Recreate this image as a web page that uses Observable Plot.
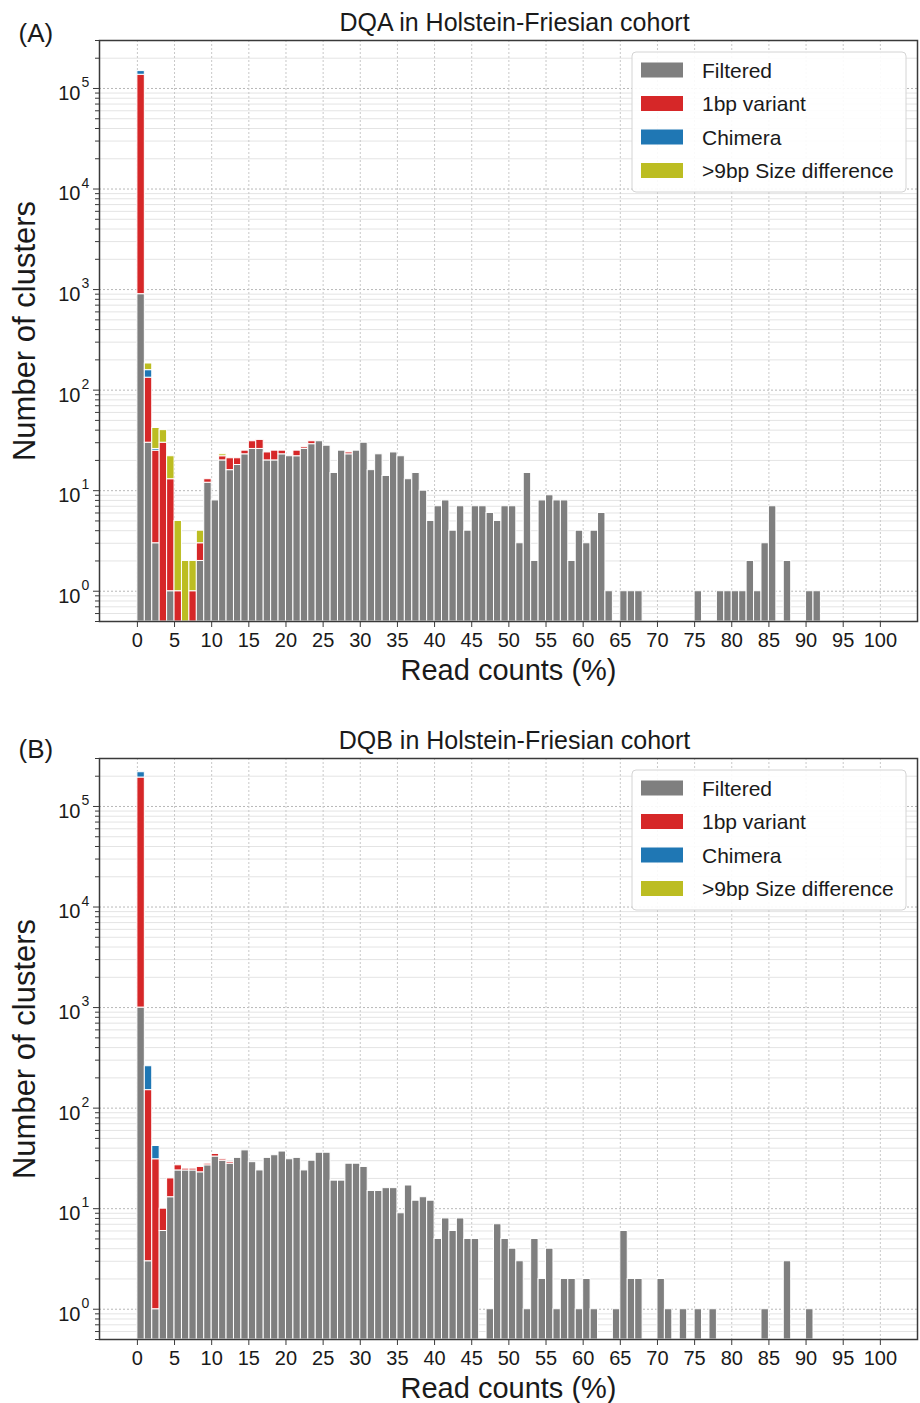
<!DOCTYPE html>
<html><head><meta charset="utf-8">
<script src="https://cdn.jsdelivr.net/npm/d3@7"></script>
<script src="https://cdn.jsdelivr.net/npm/@observablehq/plot@0.6"></script>
<style>
body{margin:0;background:#fff;font-family:"Liberation Sans",Arial,sans-serif;}
#chart svg{display:block;}
</style></head><body><div id="chart"></div>
<script>
// ---- categories / ticks ----
const categories = ["Filtered", "1bp variant", "Chimera", ">9bp Size difference"];
const colors = ["#7f7f7f", "#d62728", "#1f77b4", "#bcbd22"];
const xTicks = d3.range(0, 101, 5);
const yMajorTicks = [1, 10, 100, 1000, 10000, 100000];
const yExponents = ["0", "1", "2", "3", "4", "5"];
const xLabel = "Read counts (%)";
const yLabel = "Number of clusters";

// ---- DQA (bins of 1%, starting at 0; missing trailing bins = 0) ----
const dqaFiltered = [
  900,30,3,0,1,0,0,0,2,12,
  8,20,16,18,23,26,26,20,20,23,
  22,22,26,29,31,28,15,25,23,25,
  30,16,23,14,24,22,13,15,10,5,
  7,8,4,7,4,7,7,6,5,7,
  7,3,15,2,8,9,8,8,2,4,
  3,4,6,1,0,1,1,1,0,0,
  0,0,0,0,0,1,0,0,1,1,
  1,1,2,1,3,7,0,2,0,0,
  1,1,0,0,0,0,0,0,0,0];
const dqaVariant = [
  136000,103,22,30,12,1,0,1,1,1,
  0,2,5,3,2,5,6,4,5,2,
  0,3,1,2,0,0,0,0,1,0];
const dqaChimera = [12000,25,1];
const dqaSize = [0,26,16,10,9,4,2,1,1,0, 0,1];

// ---- DQB ----
const dqbFiltered = [
  1000,3,1,6,13,24,24,24,23,27,
  33,30,28,32,38,29,24,32,34,37,
  31,32,24,30,36,36,19,19,28,28,
  26,15,15,16,16,9,17,12,13,12,
  5,8,6,8,5,5,0,1,7,5,
  4,3,1,5,2,4,1,2,2,1,
  2,1,0,0,1,6,2,2,0,0,
  2,1,0,1,0,1,0,1,0,0,
  0,0,0,0,1,0,0,3,0,0,
  1,0,0,0,0,0,0,0,0,0];
const dqbVariant = [193000,148,30,4,7,3,1,1,3,1,2,1,1];
const dqbChimera = [25000,110,11];
const dqbSize = [];

const yMin = 0.5, yMax = 300000;

function stackRows(seriesList) {
  const rows = [];
  for (let i = 0; i < 100; i++) {
    let cum = 0;
    seriesList.forEach((vals, k) => {
      const v = vals[i] || 0;
      if (v > 0) {
        rows.push({bin: i, cat: categories[k], y1: cum > 0 ? cum : yMin, y2: cum + v});
        cum += v;
      }
    });
  }
  return rows;
}

const minorTicks = [];
for (let k = -1; k <= 5; k++) for (let m = 2; m <= 9; m++) {
  const v = m * Math.pow(10, k);
  if (v >= yMin && v <= yMax) minorTicks.push(v);
}

const FONT = '"Liberation Sans", Arial, sans-serif';
const TXT = "#1a1a1a";

function panel({title, tag, series, height, marginTop, marginBottom, tagDy}) {
  const rows = stackRows(series);
  const svg = Plot.plot({
    width: 920,
    height,
    marginLeft: 99,
    marginRight: 3,
    marginTop,
    marginBottom,
    style: {fontFamily: FONT, color: TXT, background: "white", overflow: "visible"},
    x: {type: "linear", domain: [-5.1, 105]},
    y: {type: "log", domain: [yMin, yMax]},
    color: {domain: categories, range: colors},
    marks: [
      Plot.gridY(minorTicks, {stroke: "#e4e4e4", strokeOpacity: 1, strokeWidth: 1}),
      Plot.gridY(yMajorTicks, {stroke: "#b8b8b8", strokeOpacity: 1, strokeWidth: 1, strokeDasharray: "2,2"}),
      Plot.gridX(xTicks, {stroke: "#c8c8c8", strokeOpacity: 1, strokeWidth: 1, strokeDasharray: "2,2"}),
      Plot.rect(rows, {x1: "bin", x2: d => d.bin + 1, y1: "y1", y2: "y2", fill: "cat", stroke: "white", strokeWidth: 1}),
      Plot.frame({stroke: "#3a3a3a", strokeWidth: 1.5}),
      Plot.axisX(xTicks, {anchor: "bottom", tickSize: 6, tickPadding: 5, fontSize: 20, color: TXT, stroke: "#3a3a3a", tickFormat: d => String(d), label: null}),
      Plot.axisY(yMajorTicks, {anchor: "left", tickSize: 6, tickFormat: () => "", stroke: "#3a3a3a", label: null}),
      Plot.axisY(minorTicks, {anchor: "left", tickSize: 4, tickFormat: () => "", stroke: "#3a3a3a", label: null}),
      Plot.text(yMajorTicks, {y: d => d, text: () => "10", frameAnchor: "left", textAnchor: "end", dx: -19, dy: 5, fontSize: 20, fill: TXT}),
      Plot.text(yMajorTicks, {y: d => d, text: (d, i) => yExponents[i], frameAnchor: "left", textAnchor: "start", dx: -18, dy: -6, fontSize: 14, fill: TXT}),
      Plot.text([title], {text: d => d, frameAnchor: "top", textAnchor: "middle", dx: 6, dy: -18, lineAnchor: "middle", fontSize: 25, fill: TXT}),
      Plot.text([tag], {text: d => d, frameAnchor: "top-left", textAnchor: "start", dx: -81, dy: tagDy, lineAnchor: "middle", fontSize: 26, fill: TXT}),
      Plot.text([xLabel], {text: d => d, frameAnchor: "bottom", textAnchor: "middle", dy: 49, lineAnchor: "middle", fontSize: 29, fill: TXT}),
      Plot.text([yLabel], {text: d => d, frameAnchor: "left", textAnchor: "middle", dx: -74, rotate: -90, lineAnchor: "middle", fontSize: 31, fill: TXT})
    ]
  });
  // legend (inside the frame, upper right)
  const g = d3.select(svg).append("g").attr("font-family", FONT).attr("text-anchor", "start");
  g.append("rect").attr("x", 632).attr("y", marginTop + 12).attr("width", 274).attr("height", 140)
    .attr("rx", 4).attr("fill", "white").attr("fill-opacity", 0.9).attr("stroke", "#d4d4d4");
  categories.forEach((c, i) => {
    const cy = marginTop + 30 + i * 33.5;
    g.append("rect").attr("x", 641).attr("y", cy - 7.5).attr("width", 42).attr("height", 15).attr("fill", colors[i]);
    g.append("text").attr("x", 702).attr("y", cy).attr("dy", "0.36em").attr("font-size", 21)
      .attr("text-anchor", "start").attr("fill", TXT).text(c);
  });
  return svg;
}

const chart = document.getElementById("chart");
chart.appendChild(panel({
  title: "DQA in Holstein-Friesian cohort", tag: "(A)",
  series: [dqaFiltered, dqaVariant, dqaChimera, dqaSize],
  height: 700, marginTop: 40, marginBottom: 79, tagDy: -7
}));
chart.appendChild(panel({
  title: "DQB in Holstein-Friesian cohort", tag: "(B)",
  series: [dqbFiltered, dqbVariant, dqbChimera, dqbSize],
  height: 703, marginTop: 58, marginBottom: 64, tagDy: -9
}));
</script></body></html>
